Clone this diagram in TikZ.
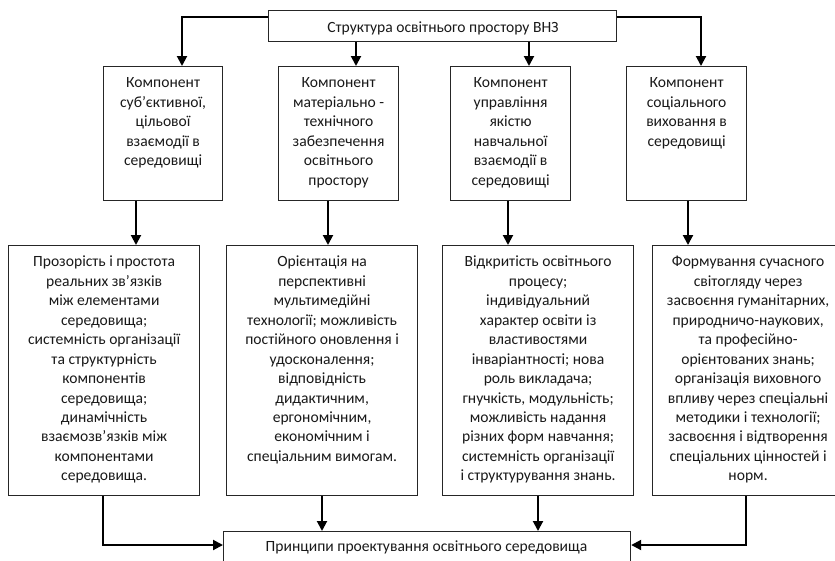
\documentclass[tikz,border=0pt]{standalone}
\usepackage{fontspec}
\setmainfont{Carlito}
\usetikzlibrary{arrows.meta}
\newcommand{\firstln}{\rule{0pt}{13pt}}
\begin{document}
\begin{tikzpicture}[x=1pt,y=-1pt,
  box/.style={draw=black!85, line width=1.2pt, inner sep=0pt, anchor=north west},
  txt/.style={align=center, inner sep=0pt, anchor=north, text=black!90,
    font=\fontsize{15.6}{19.45}\selectfont},
  conn/.style={draw=black, line width=2pt, -{Triangle[length=10pt,width=10pt]}}]
\clip (0,0) rectangle (835,560);
\fill[white] (0,0) rectangle (835,560);
% top box
\node[box, minimum width=348pt, minimum height=31pt] (top) at (268,10) {};
\node[txt, anchor=base] (toptxt) at (443,32) {Структура освітнього простору ВНЗ};
% row 1
\node[box, minimum width=119pt, minimum height=134pt] (b1) at (103,66) {};
\node[box, minimum width=120pt, minimum height=134pt] (b2) at (278,66) {};
\node[box, minimum width=120pt, minimum height=134pt] (b3) at (450,66) {};
\node[box, minimum width=120pt, minimum height=134pt] (b4) at (626,66) {};
\node[txt] (t1) at ([yshift=-8.7pt]b1.north) {\firstln Компонент\\суб’єктивної,\\цільової\\взаємодії в\\середовищі};
\node[txt] (t2) at ([yshift=-8.7pt]b2.north) {\firstln Компонент\\матеріально -\\технічного\\забезпечення\\освітнього\\простору};
\node[txt] (t3) at ([yshift=-8.7pt]b3.north) {\firstln Компонент\\управління\\якістю\\навчальної\\взаємодії в\\середовищі};
\node[txt] (t4) at ([yshift=-8.7pt]b4.north) {\firstln Компонент\\соціального\\виховання в\\середовищі};
% row 2
\node[box, minimum width=191pt, minimum height=250pt] (b5) at (8,245) {};
\node[box, minimum width=191pt, minimum height=250pt] (b6) at (226,245) {};
\node[box, minimum width=191pt, minimum height=250pt] (b7) at (442,245) {};
\node[box, minimum width=191pt, minimum height=250pt] (b8) at (652,245) {};
\node[txt] (t5) at ([yshift=-8.7pt]b5.north) {\firstln Прозорість і простота\\реальних зв’язків\\між елементами\\середовища;\\системність організації\\та структурність\\компонентів\\середовища;\\динамічність\\взаємозв'язків між\\компонентами\\середовища.};
\node[txt] (t6) at ([yshift=-8.7pt]b6.north) {\firstln Орієнтація на\\перспективні\\мультимедійні\\технології; можливість\\постійного оновлення і\\удосконалення;\\відповідність\\дидактичним,\\ергономічним,\\економічним і\\спеціальним вимогам.};
\node[txt] (t7) at ([yshift=-8.7pt]b7.north) {\firstln Відкритість освітнього\\процесу;\\індивідуальний\\характер освіти із\\властивостями\\інваріантності; нова\\роль викладача;\\гнучкість, модульність;\\можливість надання\\різних форм навчання;\\системність організації\\і структурування знань.};
\node[txt] (t8) at ([yshift=-8.7pt]b8.north) {\firstln Формування сучасного\\світогляду через\\засвоєння гуманітарних,\\природничо-наукових,\\та професійно-\\орієнтованих знань;\\організація виховного\\впливу через спеціальні\\методики і технології;\\засвоєння і відтворення\\спеціальних цінностей і\\норм.};
% bottom box
\node[box, minimum width=407pt, minimum height=45pt] (bot) at (223,531) {};
\node[txt, anchor=base] (bottxt) at (426.5,551) {Принципи проектування освітнього середовища};
% connectors
\coordinate (cl) at (182,17);
\coordinate (cr) at (701,17);
\draw[conn] (top.west |- cl) -- (cl) -- (b1.north -| cl);
\draw[conn] (top.east |- cr) -- (cr) -- (b4.north -| cr);
\draw[conn] (top.south -| 356,0) -- (b2.north -| 356,0);
\draw[conn] (top.south -| 529,0) -- (b3.north -| 529,0);
\draw[conn] (b1.south -| 136,0) -- (b5.north -| 136,0);
\draw[conn] (b2.south -| 328,0) -- (b6.north -| 328,0);
\draw[conn] (b3.south -| 508,0) -- (b7.north -| 508,0);
\draw[conn] (b4.south -| 688,0) -- (b8.north -| 688,0);
\coordinate (dl) at (103,545);
\coordinate (dr) at (746,545);
\draw[conn] (b5.south -| dl) -- (dl) -- (bot.west |- dl);
\draw[conn] (b8.south -| dr) -- (dr) -- (bot.east |- dr);
\draw[conn] (b6.south -| 322,0) -- (bot.north -| 322,0);
\draw[conn] (b7.south -| 538,0) -- (bot.north -| 538,0);
\end{tikzpicture}
\end{document}
